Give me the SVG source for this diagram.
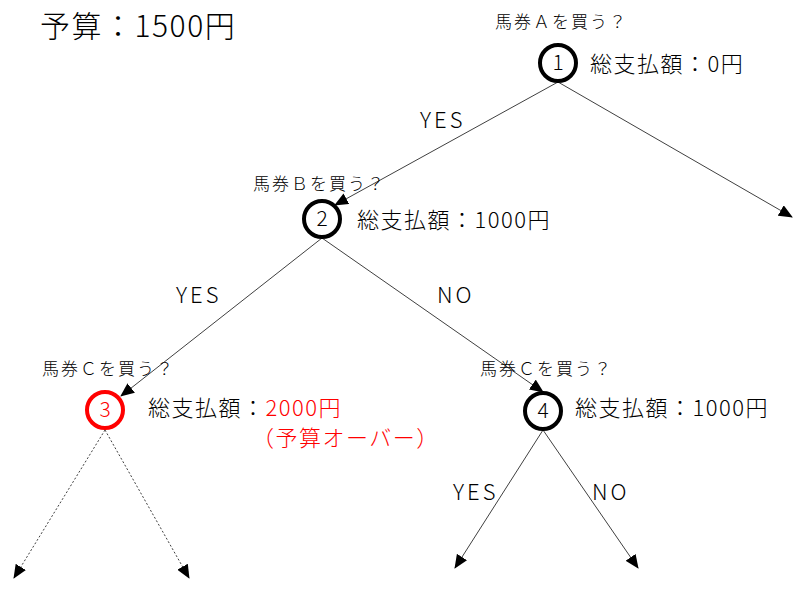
<svg xmlns="http://www.w3.org/2000/svg" width="806" height="593" viewBox="0 0 806 593">
<style>
text{font-family:"Noto Sans CJK JP","Noto Sans",sans-serif;fill:#000;font-weight:300}
.q{font-size:17px;letter-spacing:2px}
.t{font-size:22px;letter-spacing:1.5px}
.l{font-size:22px;letter-spacing:3px}
.red{fill:#f00}
.node{fill:#fff;stroke:#000;stroke-width:4}
.nr{stroke:#f00}
.num{font-size:21px;text-anchor:middle}
.e{stroke:#404040;stroke-width:1;fill:none;marker-end:url(#ah)}
.d{stroke-dasharray:2 2}
</style>
<defs>
<marker id="ah" markerUnits="userSpaceOnUse" markerWidth="14" markerHeight="12" refX="13" refY="6" orient="auto" viewBox="0 0 14 12">
<path d="M0,0 L14,6 L0,12 Z" fill="#000"/>
</marker>
</defs>
<text x="40" y="37" style="font-size:30px;letter-spacing:1.5px">予算：1500円</text>
<g id="connectors">
<line class="e" x1="558" y1="82" x2="335" y2="205"/>
<line class="e" x1="558" y1="82" x2="792" y2="217"/>
<line class="e" x1="322" y1="238" x2="121" y2="396"/>
<line class="e" x1="322" y1="238" x2="543" y2="392"/>
<line class="e d" x1="105" y1="430" x2="14" y2="578"/>
<line class="e d" x1="105" y1="430" x2="189" y2="578"/>
<line class="e" x1="543" y1="430" x2="455" y2="568"/>
<line class="e" x1="543" y1="430" x2="638" y2="568"/>
</g>
<g id="labels">
<text class="l" x="420" y="128">YES</text>
<text class="l" x="176" y="303">YES</text>
<text class="l" x="437" y="303">NO</text>
<text class="l" x="453" y="500">YES</text>
<text class="l" x="592" y="500">NO</text>
</g>
<g id="node1">
<text class="q" x="495" y="28">馬券Ａを買う？</text>
<circle class="node" cx="558" cy="63" r="18"/>
<text class="num" x="558" y="70">1</text>
<text class="t" x="590" y="72">総支払額：0円</text>
</g>
<g id="node2">
<text class="q" x="253" y="190">馬券Ｂを買う？</text>
<circle class="node" cx="322" cy="219" r="18"/>
<text class="num" x="322" y="226">2</text>
<text class="t" x="357" y="228">総支払額：1000円</text>
</g>
<g id="node3">
<text class="q" x="42" y="375">馬券Ｃを買う？</text>
<circle class="node nr" cx="105" cy="410" r="18"/>
<text class="num red" x="105" y="417">3</text>
<text class="t" x="148" y="416">総支払額：<tspan class="red">2000円</tspan></text>
<text class="t red" x="252" y="446">（予算オーバー）</text>
</g>
<g id="node4">
<text class="q" x="480" y="375">馬券Ｃを買う？</text>
<circle class="node" cx="543" cy="411" r="18"/>
<text class="num" x="543" y="418">4</text>
<text class="t" x="575" y="416">総支払額：1000円</text>
</g>
</svg>
